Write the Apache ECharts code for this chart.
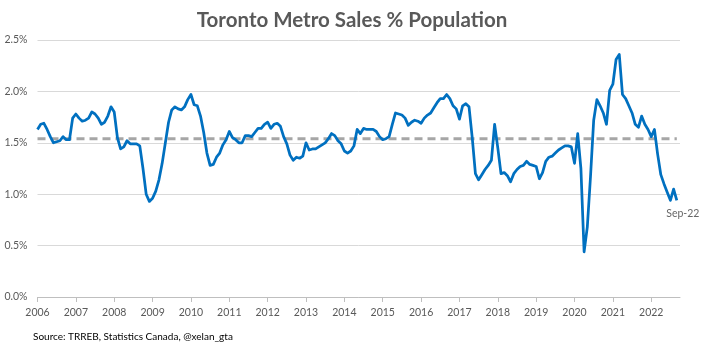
<!DOCTYPE html>
<html>
<head>
<meta charset="utf-8">
<script src="https://cdn.jsdelivr.net/npm/echarts@6/dist/echarts.min.js"></script>
<style>
  html, body { margin: 0; padding: 0; background: #ffffff; }
  #chart { width: 704px; height: 349px; }
</style>
</head>
<body>
<div id="chart"></div>
<script>
// Years shown on the time axis (one tick each January)
const years = [2006, 2007, 2008, 2009, 2010, 2011, 2012, 2013, 2014, 2015,
               2016, 2017, 2018, 2019, 2020, 2021, 2022];
const monthNames = ['Jan', 'Feb', 'Mar', 'Apr', 'May', 'Jun',
                    'Jul', 'Aug', 'Sep', 'Oct', 'Nov', 'Dec'];

// Monthly sales as % of population, Jan 2006 .. Sep 2022
const sales2006 = [1.63, 1.68, 1.69, 1.63, 1.56, 1.50, 1.51, 1.52, 1.56, 1.53, 1.53, 1.74];
const sales2007 = [1.78, 1.74, 1.71, 1.72, 1.74, 1.80, 1.78, 1.74, 1.68, 1.70, 1.76, 1.85];
const sales2008 = [1.80, 1.55, 1.44, 1.46, 1.52, 1.49, 1.49, 1.49, 1.47, 1.25, 1.00, 0.93];
const sales2009 = [0.96, 1.03, 1.14, 1.30, 1.50, 1.70, 1.82, 1.85, 1.83, 1.82, 1.85, 1.92];
const sales2010 = [1.97, 1.87, 1.86, 1.76, 1.60, 1.40, 1.28, 1.29, 1.36, 1.40, 1.48, 1.53];
const sales2011 = [1.61, 1.55, 1.53, 1.50, 1.50, 1.57, 1.57, 1.56, 1.60, 1.64, 1.64, 1.68];
const sales2012 = [1.70, 1.64, 1.68, 1.69, 1.66, 1.56, 1.49, 1.38, 1.33, 1.36, 1.35, 1.37];
const sales2013 = [1.50, 1.43, 1.44, 1.44, 1.46, 1.48, 1.50, 1.54, 1.59, 1.57, 1.52, 1.49];
const sales2014 = [1.42, 1.40, 1.42, 1.47, 1.63, 1.59, 1.64, 1.63, 1.63, 1.63, 1.61, 1.56];
const sales2015 = [1.53, 1.54, 1.56, 1.68, 1.79, 1.78, 1.77, 1.74, 1.67, 1.70, 1.72, 1.71];
const sales2016 = [1.69, 1.74, 1.77, 1.79, 1.84, 1.89, 1.93, 1.93, 1.97, 1.93, 1.86, 1.83];
const sales2017 = [1.73, 1.86, 1.88, 1.85, 1.55, 1.20, 1.14, 1.19, 1.24, 1.28, 1.33, 1.68];
const sales2018 = [1.45, 1.20, 1.21, 1.18, 1.12, 1.20, 1.24, 1.27, 1.28, 1.32, 1.29, 1.28];
const sales2019 = [1.27, 1.15, 1.21, 1.32, 1.36, 1.37, 1.40, 1.43, 1.45, 1.47, 1.47, 1.46];
const sales2020 = [1.30, 1.59, 1.25, 0.44, 0.68, 1.17, 1.72, 1.92, 1.86, 1.79, 1.68, 2.01];
const sales2021 = [2.07, 2.31, 2.36, 1.97, 1.93, 1.86, 1.79, 1.68, 1.65, 1.76, 1.68, 1.63];
const sales2022 = [1.56, 1.63, 1.39, 1.19, 1.10, 1.02, 0.94, 1.05, 0.94];

// Long-run average of the series
const longRunAvg = 1.54;

// Value-axis tick labels
const yTicks = [0, 0.5, 1.0, 1.5, 2.0, 2.5];

const salesPct = [].concat(sales2006, sales2007, sales2008, sales2009, sales2010,
  sales2011, sales2012, sales2013, sales2014, sales2015, sales2016, sales2017,
  sales2018, sales2019, sales2020, sales2021, sales2022);

// Month labels such as "Sep-22"
const months = salesPct.map((_, i) =>
  monthNames[i % 12] + '-' + String(years[Math.floor(i / 12)]).slice(2));

const lastIdx = salesPct.length - 1;
const yearTickValues = years.map((_, i) => i * 12);

const FONT = 'Lato';
const TEXT = '#595959';

const chart = echarts.init(document.getElementById('chart'), null, { renderer: 'canvas' });

chart.setOption({
  animation: false,
  backgroundColor: '#ffffff',
  title: {
    text: 'Toronto Metro Sales % Population',
    left: 'center',
    top: 5,
    textStyle: { fontFamily: FONT, fontSize: 20.5, fontWeight: 'bold', color: TEXT }
  },
  grid: { left: 37.5, right: 24, top: 40, bottom: 52, containLabel: false },
  xAxis: {
    type: 'value',
    min: 0,
    max: lastIdx + 1,
    splitLine: { show: false },
    axisLine: { show: true, lineStyle: { color: '#BFBFBF', width: 1 } },
    axisTick: {
      show: true, length: 5, inside: false,
      customValues: yearTickValues,
      lineStyle: { color: '#BFBFBF', width: 1 }
    },
    axisLabel: {
      customValues: yearTickValues,
      formatter: v => String(years[Math.round(v / 12)]),
      margin: 10,
      fontFamily: FONT, fontSize: 10.5, color: TEXT
    }
  },
  yAxis: {
    type: 'value',
    min: yTicks[0],
    max: yTicks[yTicks.length - 1],
    interval: 0.5,
    axisLine: { show: false },
    axisTick: { show: false },
    splitLine: { lineStyle: { color: '#D9D9D9', width: 1 } },
    axisLabel: {
      formatter: v => v.toFixed(1) + '%',
      margin: 10,
      fontFamily: FONT, fontSize: 10.5, color: TEXT
    }
  },
  series: [
    {
      name: 'Average',
      type: 'line',
      data: [[0, longRunAvg], [lastIdx, longRunAvg]],
      showSymbol: false,
      silent: true,
      lineStyle: { color: '#A6A6A6', width: 3, type: [8, 5] },
      z: 2
    },
    {
      name: 'Sales % Population',
      type: 'line',
      data: salesPct.map((v, i) => [i, v]),
      showSymbol: false,
      lineStyle: { color: '#0070C0', width: 2.75, join: 'round' },
      z: 3
    },
    {
      name: 'Latest',
      type: 'scatter',
      data: [[lastIdx, salesPct[lastIdx]]],
      symbolSize: 0,
      silent: true,
      label: {
        show: true,
        position: 'bottom',
        distance: 8,
        offset: [6, 0],
        formatter: () => months[lastIdx],
        fontFamily: FONT, fontSize: 10.5, color: '#404040'
      },
      z: 4
    }
  ],
  graphic: [
    {
      type: 'text',
      left: 33,
      top: 332,
      style: {
        text: 'Source: TRREB, Statistics Canada, @xelan_gta',
        fontFamily: FONT, fontSize: 10, fill: '#000000'
      }
    }
  ]
});
</script>
</body>
</html>
